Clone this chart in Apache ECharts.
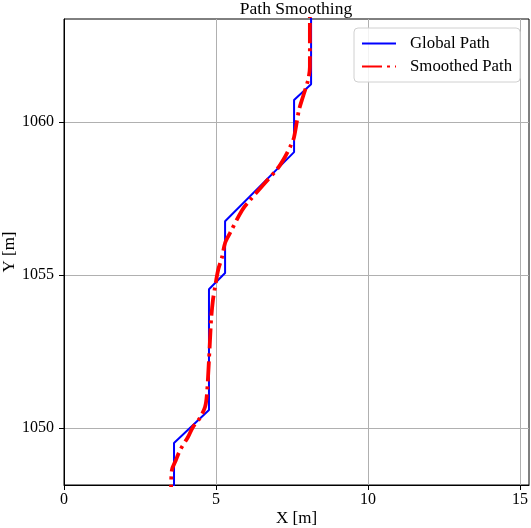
<!DOCTYPE html>
<html>
<head>
<meta charset="utf-8">
<script src="https://cdn.jsdelivr.net/npm/echarts@6/dist/echarts.min.js"></script>
<style>html,body{margin:0;padding:0;background:#fff;}#c{width:531px;height:528px;}</style>
</head>
<body>
<div id="c"></div>
<script>
// Data
var globalX = [3.62, 3.62, 4.77, 4.77, 5.30, 5.30, 7.57, 7.57, 8.13, 8.13];
var globalY = [1047.5, 1049.51, 1050.59, 1054.54, 1055.07, 1056.76, 1059.02, 1060.72, 1061.24, 1064.0];
var smoothX = [3.50, 3.52, 3.55, 3.68, 3.82, 4.08, 4.24, 4.47, 4.64, 4.70, 4.77, 4.84, 4.90, 4.97, 5.07, 5.20, 5.30, 5.46, 5.86, 6.12, 6.61, 7.04, 7.27, 7.47, 7.57, 7.73, 7.86, 8.03, 8.09, 8.09];
var smoothY = [1047.5, 1047.97, 1048.63, 1048.95, 1049.28, 1049.71, 1050.03, 1050.33, 1050.69, 1051.08, 1052.22, 1053.53, 1054.18, 1054.61, 1055.16, 1055.59, 1056.05, 1056.37, 1057.12, 1057.45, 1058.01, 1058.50, 1058.86, 1059.25, 1059.51, 1060.39, 1060.82, 1061.37, 1061.80, 1064.0];
var xTicks = [0, 5, 10, 15];
var yTicks = [1050, 1055, 1060];

function pairs(xs, ys) { return xs.map(function (x, i) { return [x, ys[i]]; }); }

var font = 'Liberation Serif, Times New Roman, serif';
var chart = echarts.init(document.getElementById('c'), null, {renderer: 'canvas'});
chart.setOption({
  animation: false,
  backgroundColor: '#fff',
  title: {
    text: 'Path Smoothing', left: 296, top: 0, textAlign: 'center', padding: 0,
    textStyle: {fontFamily: font, fontSize: 17.5, fontWeight: 'normal', color: '#000'}
  },
  grid: {left: 64, top: 19, right: 2, bottom: 43, show: true, borderColor: '#000', borderWidth: 1,
         containLabel: false, outerBoundsMode: 'none'},
  legend: {
    orient: 'vertical', left: 354, top: 28,
    itemWidth: 34, itemHeight: 14, itemGap: 6,
    padding: [7, 8, 7, 7],
    backgroundColor: 'rgba(255,255,255,0.85)', borderColor: '#d0d0d0', borderWidth: 1, borderRadius: 4,
    itemStyle: {color: 'rgba(0,0,0,0)', borderWidth: 0, opacity: 0},
    textStyle: {fontFamily: font, fontSize: 16.8, color: '#000', padding: [0, 0, 0, 9]},
    data: ['Global Path', 'Smoothed Path']
  },
  xAxis: {
    type: 'value', min: 0, max: 15.3,
    name: 'X [m]', nameLocation: 'middle', nameGap: 25, nameMoveOverlap: false,
    nameTextStyle: {fontFamily: font, fontSize: 17, color: '#000'},
    axisLine: {show: true, onZero: false, lineStyle: {color: '#000', width: 1}},
    axisTick: {show: true, length: 5, customValues: xTicks, lineStyle: {color: '#000'}},
    axisLabel: {customValues: xTicks, margin: 7, fontFamily: font, fontSize: 16, color: '#000',
                formatter: function (v) { return String(v); }},
    splitLine: {show: true, lineStyle: {color: '#b0b0b0', width: 1}}
  },
  yAxis: {
    type: 'value', min: 1048.14, max: 1063.37,
    name: 'Y [m]', nameLocation: 'middle', nameGap: 46, nameMoveOverlap: false,
    nameTextStyle: {fontFamily: font, fontSize: 17, color: '#000'},
    axisLine: {show: true, onZero: false, lineStyle: {color: '#000', width: 1}},
    axisTick: {show: true, length: 5, customValues: yTicks, lineStyle: {color: '#000'}},
    axisLabel: {customValues: yTicks, margin: 10, fontFamily: font, fontSize: 16, color: '#000',
                formatter: function (v) { return String(v); }},
    splitLine: {show: true, lineStyle: {color: '#b0b0b0', width: 1}}
  },
  series: [
    {
      name: 'Global Path', type: 'line', data: pairs(globalX, globalY),
      symbol: 'none', showSymbol: false, clip: true,
      itemStyle: {color: '#0000ff'},
      lineStyle: {color: '#0000ff', width: 2}
    },
    {
      name: 'Smoothed Path', type: 'line', data: pairs(smoothX, smoothY),
      symbol: 'none', showSymbol: false, clip: true, smooth: 0.3,
      itemStyle: {color: '#ff0000'},
      lineStyle: {color: '#ff0000', width: 3.8, type: [20, 5, 3, 5], cap: 'butt'}
    }
  ]
});
</script>
</body>
</html>
